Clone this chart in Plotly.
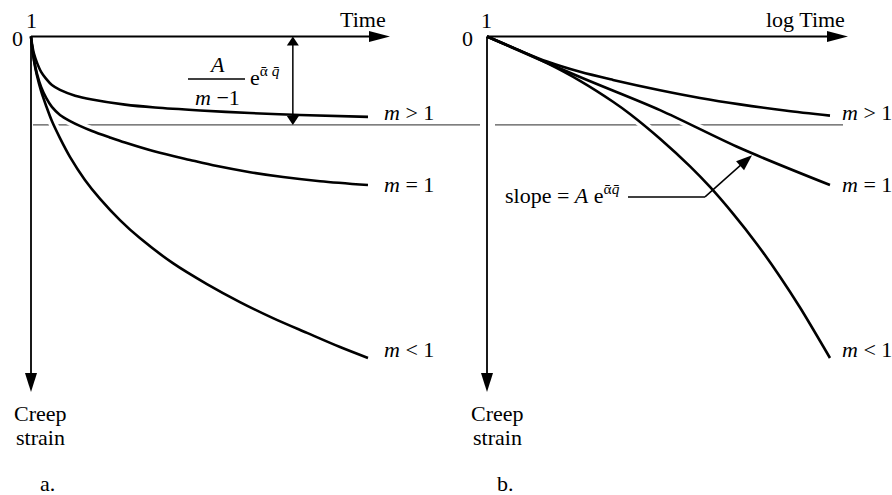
import math
import plotly.graph_objects as go

# ---------------------------------------------------------------------------
# Creep strain curves (arbitrary units).  Strain grows downwards.
# Panel a: linear time axis
# ---------------------------------------------------------------------------
time_a_gt1 = [0, 0.03, 0.09, 0.18, 0.30, 0.45, 0.62, 0.86, 1.31, 1.81, 2.79, 3.68, 5.02, 6.50, 7.98, 10.0]
strain_a_gt1 = [0, 0.23, 0.54, 0.82, 1.10, 1.32, 1.51, 1.66, 1.84, 1.96, 2.12, 2.21, 2.30, 2.38, 2.44, 2.50]

time_a_eq1 = [0, 0.03, 0.09, 0.18, 0.30, 0.45, 0.62, 0.86, 1.16, 1.45, 1.81, 2.34, 2.79, 3.68,
              4.72, 5.52, 6.50, 7.48, 8.58, 10.0]
strain_a_eq1 = [0, 0.30, 0.73, 1.17, 1.57, 1.91, 2.19, 2.44, 2.63, 2.78, 2.94, 3.14, 3.30, 3.58,
                3.84, 4.03, 4.22, 4.37, 4.50, 4.62]

time_a_lt1 = [0, 0.03, 0.09, 0.18, 0.30, 0.45, 0.62, 0.86, 1.16, 1.60, 2.05, 2.64, 3.23, 4.21,
              5.22, 6.20, 7.18, 8.19, 9.17, 10.0]
strain_a_lt1 = [0, 0.30, 0.76, 1.23, 1.70, 2.16, 2.63, 3.16, 3.75, 4.46, 5.05, 5.71, 6.27, 7.05,
                7.70, 8.26, 8.76, 9.22, 9.66, 10.0]

# Panel b: logarithmic time axis (time starts at 1)
time_b_gt1 = [1, 1.83, 3.35, 6.51, 12.65, 32.6, 72.9, 163, 404, 1000]
strain_b_gt1 = [0, 0.40, 0.78, 1.10, 1.35, 1.67, 1.91, 2.11, 2.30, 2.46]

time_b_eq1 = [1, 6.5, 32.6, 163, 1000]
strain_b_eq1 = [0, 1.26, 2.29, 3.47, 4.62]

time_b_lt1 = [1, 1.83, 3.35, 6.51, 12.65, 17.8, 32.6, 59.7, 89.2, 141.8, 230, 365.5, 546.8, 1000]
strain_b_lt1 = [0, 0.40, 0.83, 1.38, 2.03, 2.41, 3.18, 4.04, 4.68, 5.51, 6.46, 7.47, 8.43, 10.0]

curve_labels = ["<i>m</i> &gt; 1", "<i>m</i> = 1", "<i>m</i> &lt; 1"]

asymptote_strain = 2.75          # level A/(m-1) e^(alpha q) approached for m > 1
gap_arrow_time = 7.77            # where the double arrow is drawn in panel a
slope_leader_time = [17.1, 80.7, 208]
slope_leader_strain = [4.99, 4.99, 3.69]

# ---------------------------------------------------------------------------
# Page geometry (pixels)
# ---------------------------------------------------------------------------
W, H = 892, 495
SPLIT = 450                      # boundary between the two panels
A_X0, B_X0, Y0 = 31, 487, 36.5   # origins of the two panels
T_SCALE = 33.7                   # px per time unit (panel a)
DEC_SCALE = 114.33               # px per decade (panel b)
S_SCALE = 32.15                  # px per strain unit
AXIS_END_A, AXIS_END_B, AXIS_END_Y = 390, 848, 392

FONT = "Liberation Serif"
FS = 22
INK = "#000000"


def paper(px, py):
    return px / W, 1 - py / H


def a_px(t, s):
    return A_X0 + t * T_SCALE, Y0 + s * S_SCALE


def b_px(t, s):
    return B_X0 + math.log10(t) * DEC_SCALE, Y0 + s * S_SCALE


def head_shape(tip, tail, length, width):
    """Filled triangular arrow head with its point at `tip`, aimed away from `tail`."""
    dx, dy = tip[0] - tail[0], tip[1] - tail[1]
    n = math.hypot(dx, dy)
    ux, uy = dx / n, dy / n
    bx, by = tip[0] - ux * length, tip[1] - uy * length
    px_, py_ = -uy * width / 2, ux * width / 2
    pts = [tip, (bx + px_, by + py_), (bx - px_, by - py_)]
    pp = [paper(*p) for p in pts]
    path = "M{:.5f},{:.5f} L{:.5f},{:.5f} L{:.5f},{:.5f} Z".format(
        pp[0][0], pp[0][1], pp[1][0], pp[1][1], pp[2][0], pp[2][1])
    return dict(type="path", xref="paper", yref="paper", path=path,
                fillcolor=INK, line=dict(width=0), layer="above")


def line_shape(p0, p1, width=1.8, color=INK, layer="above"):
    x0, y0 = paper(*p0)
    x1, y1 = paper(*p1)
    return dict(type="line", xref="paper", yref="paper", x0=x0, y0=y0, x1=x1, y1=y1,
                line=dict(color=color, width=width), layer=layer)


def text(px, py, s, xanchor="center", yanchor="middle", size=FS):
    x, y = paper(px, py)
    return dict(x=x, y=y, xref="paper", yref="paper", text=s, showarrow=False,
                xanchor=xanchor, yanchor=yanchor, font=dict(family=FONT, size=size, color=INK))


fig = go.Figure()

panel_a = [(time_a_gt1, strain_a_gt1), (time_a_eq1, strain_a_eq1), (time_a_lt1, strain_a_lt1)]
panel_b = [(time_b_gt1, strain_b_gt1), (time_b_eq1, strain_b_eq1), (time_b_lt1, strain_b_lt1)]

curve_line = dict(shape="spline", smoothing=0.9)

# white casing first so that the thin reference line is broken where curves cross it
for (t, s) in panel_a:
    fig.add_trace(go.Scatter(x=t, y=s, mode="lines", xaxis="x", yaxis="y", hoverinfo="skip",
                             line=dict(color="white", width=9, **curve_line)))
for (t, s) in panel_b:
    fig.add_trace(go.Scatter(x=t, y=s, mode="lines", xaxis="x2", yaxis="y2", hoverinfo="skip",
                             line=dict(color="white", width=9, **curve_line)))
for (t, s) in panel_a:
    fig.add_trace(go.Scatter(x=t, y=s, mode="lines", xaxis="x", yaxis="y",
                             line=dict(color=INK, width=2.6, **curve_line)))
for (t, s) in panel_b:
    fig.add_trace(go.Scatter(x=t, y=s, mode="lines", xaxis="x2", yaxis="y2",
                             line=dict(color=INK, width=2.6, **curve_line)))

shapes = []
# thin reference level across both panels
_, y_asym = a_px(0, asymptote_strain)
shapes.append(line_shape((A_X0 + 2, y_asym), (SPLIT + 30, y_asym), width=1.2, color="#555555", layer="below"))
shapes.append(line_shape((B_X0 + 8, y_asym), (843, y_asym), width=1.2, color="#555555", layer="below"))

# axes with arrow heads
for x0, xend in [(A_X0, AXIS_END_A), (B_X0, AXIS_END_B)]:
    shapes.append(line_shape((x0, Y0), (xend - 10, Y0)))
    shapes.append(head_shape((xend, Y0), (x0, Y0), 21, 11))
    shapes.append(line_shape((x0, Y0), (x0, AXIS_END_Y - 10)))
    shapes.append(head_shape((x0, AXIS_END_Y), (x0, Y0), 19, 12))

# double arrow marking the limiting strain (panel a)
top = a_px(gap_arrow_time, 0)
bot = a_px(gap_arrow_time, asymptote_strain)
shapes.append(line_shape((top[0], top[1] + 4), (bot[0], bot[1] - 4), width=1.5))
shapes.append(head_shape(top, bot, 9, 12))
shapes.append(head_shape(bot, top, 9, 12))

# fraction bar of A/(m-1)
shapes.append(line_shape((188, 79), (245, 79), width=1.4))

# leader pointing at the straight m = 1 line (panel b)
lead = [b_px(t, s) for t, s in zip(slope_leader_time, slope_leader_strain)]
shapes.append(line_shape(lead[0], lead[1], width=1.5))
shapes.append(line_shape(lead[1], (lead[2][0] - 8, lead[2][1] + 7), width=1.5))
shapes.append(head_shape(lead[2], lead[1], 16, 12))

annotations = []
# axis titles and origin marks
annotations.append(text(388, 19, "Time", xanchor="right"))
annotations.append(text(847, 19, "log Time", xanchor="right"))
for x0, zx in [(A_X0, 17), (B_X0, 467)]:
    annotations.append(text(zx, 38, "0"))
    annotations.append(text(x0, 20, "1"))
for cx in (40, 497):
    annotations.append(text(cx, 413, "Creep"))
    annotations.append(text(cx, 437, "strain"))
annotations.append(text(47, 483, "a."))
annotations.append(text(505, 483, "b."))

# curve labels at the right-hand ends
label_y = [112, 185, 349]
for lab, y in zip(curve_labels, label_y):
    annotations.append(text(382, y, lab, xanchor="left"))
    annotations.append(text(840, y, lab, xanchor="left"))

# A/(m-1) e^(alpha q)
annotations.append(text(217, 65, "<i>A</i>"))
annotations.append(text(217, 97, "<i>m</i> \u22121"))
annotations.append(text(248, 76, "e<sup>\u1fb1 <i>q\u0304</i></sup>", xanchor="left"))

# slope = A e^(alpha q)
annotations.append(text(503, 194, "slope = <i>A</i> e<sup>\u1fb1<i>q\u0304</i></sup>", xanchor="left"))

fig.update_layout(
    width=W, height=H,
    margin=dict(l=0, r=0, t=0, b=0),
    paper_bgcolor="white", plot_bgcolor="white",
    showlegend=False,
    font=dict(family=FONT, size=FS, color=INK),
    xaxis=dict(domain=[0, SPLIT / W], range=[-A_X0 / T_SCALE, (SPLIT - A_X0) / T_SCALE],
               visible=False, anchor="y"),
    yaxis=dict(domain=[0, 1], range=[(H - Y0) / S_SCALE, -Y0 / S_SCALE],
               visible=False, anchor="x"),
    xaxis2=dict(type="log", domain=[SPLIT / W, 1],
                range=[(SPLIT - B_X0) / DEC_SCALE, (W - B_X0) / DEC_SCALE],
                visible=False, anchor="y2"),
    yaxis2=dict(domain=[0, 1], range=[(H - Y0) / S_SCALE, -Y0 / S_SCALE],
                visible=False, anchor="x2"),
    shapes=shapes,
    annotations=annotations,
)

fig.write_html("out.html")
